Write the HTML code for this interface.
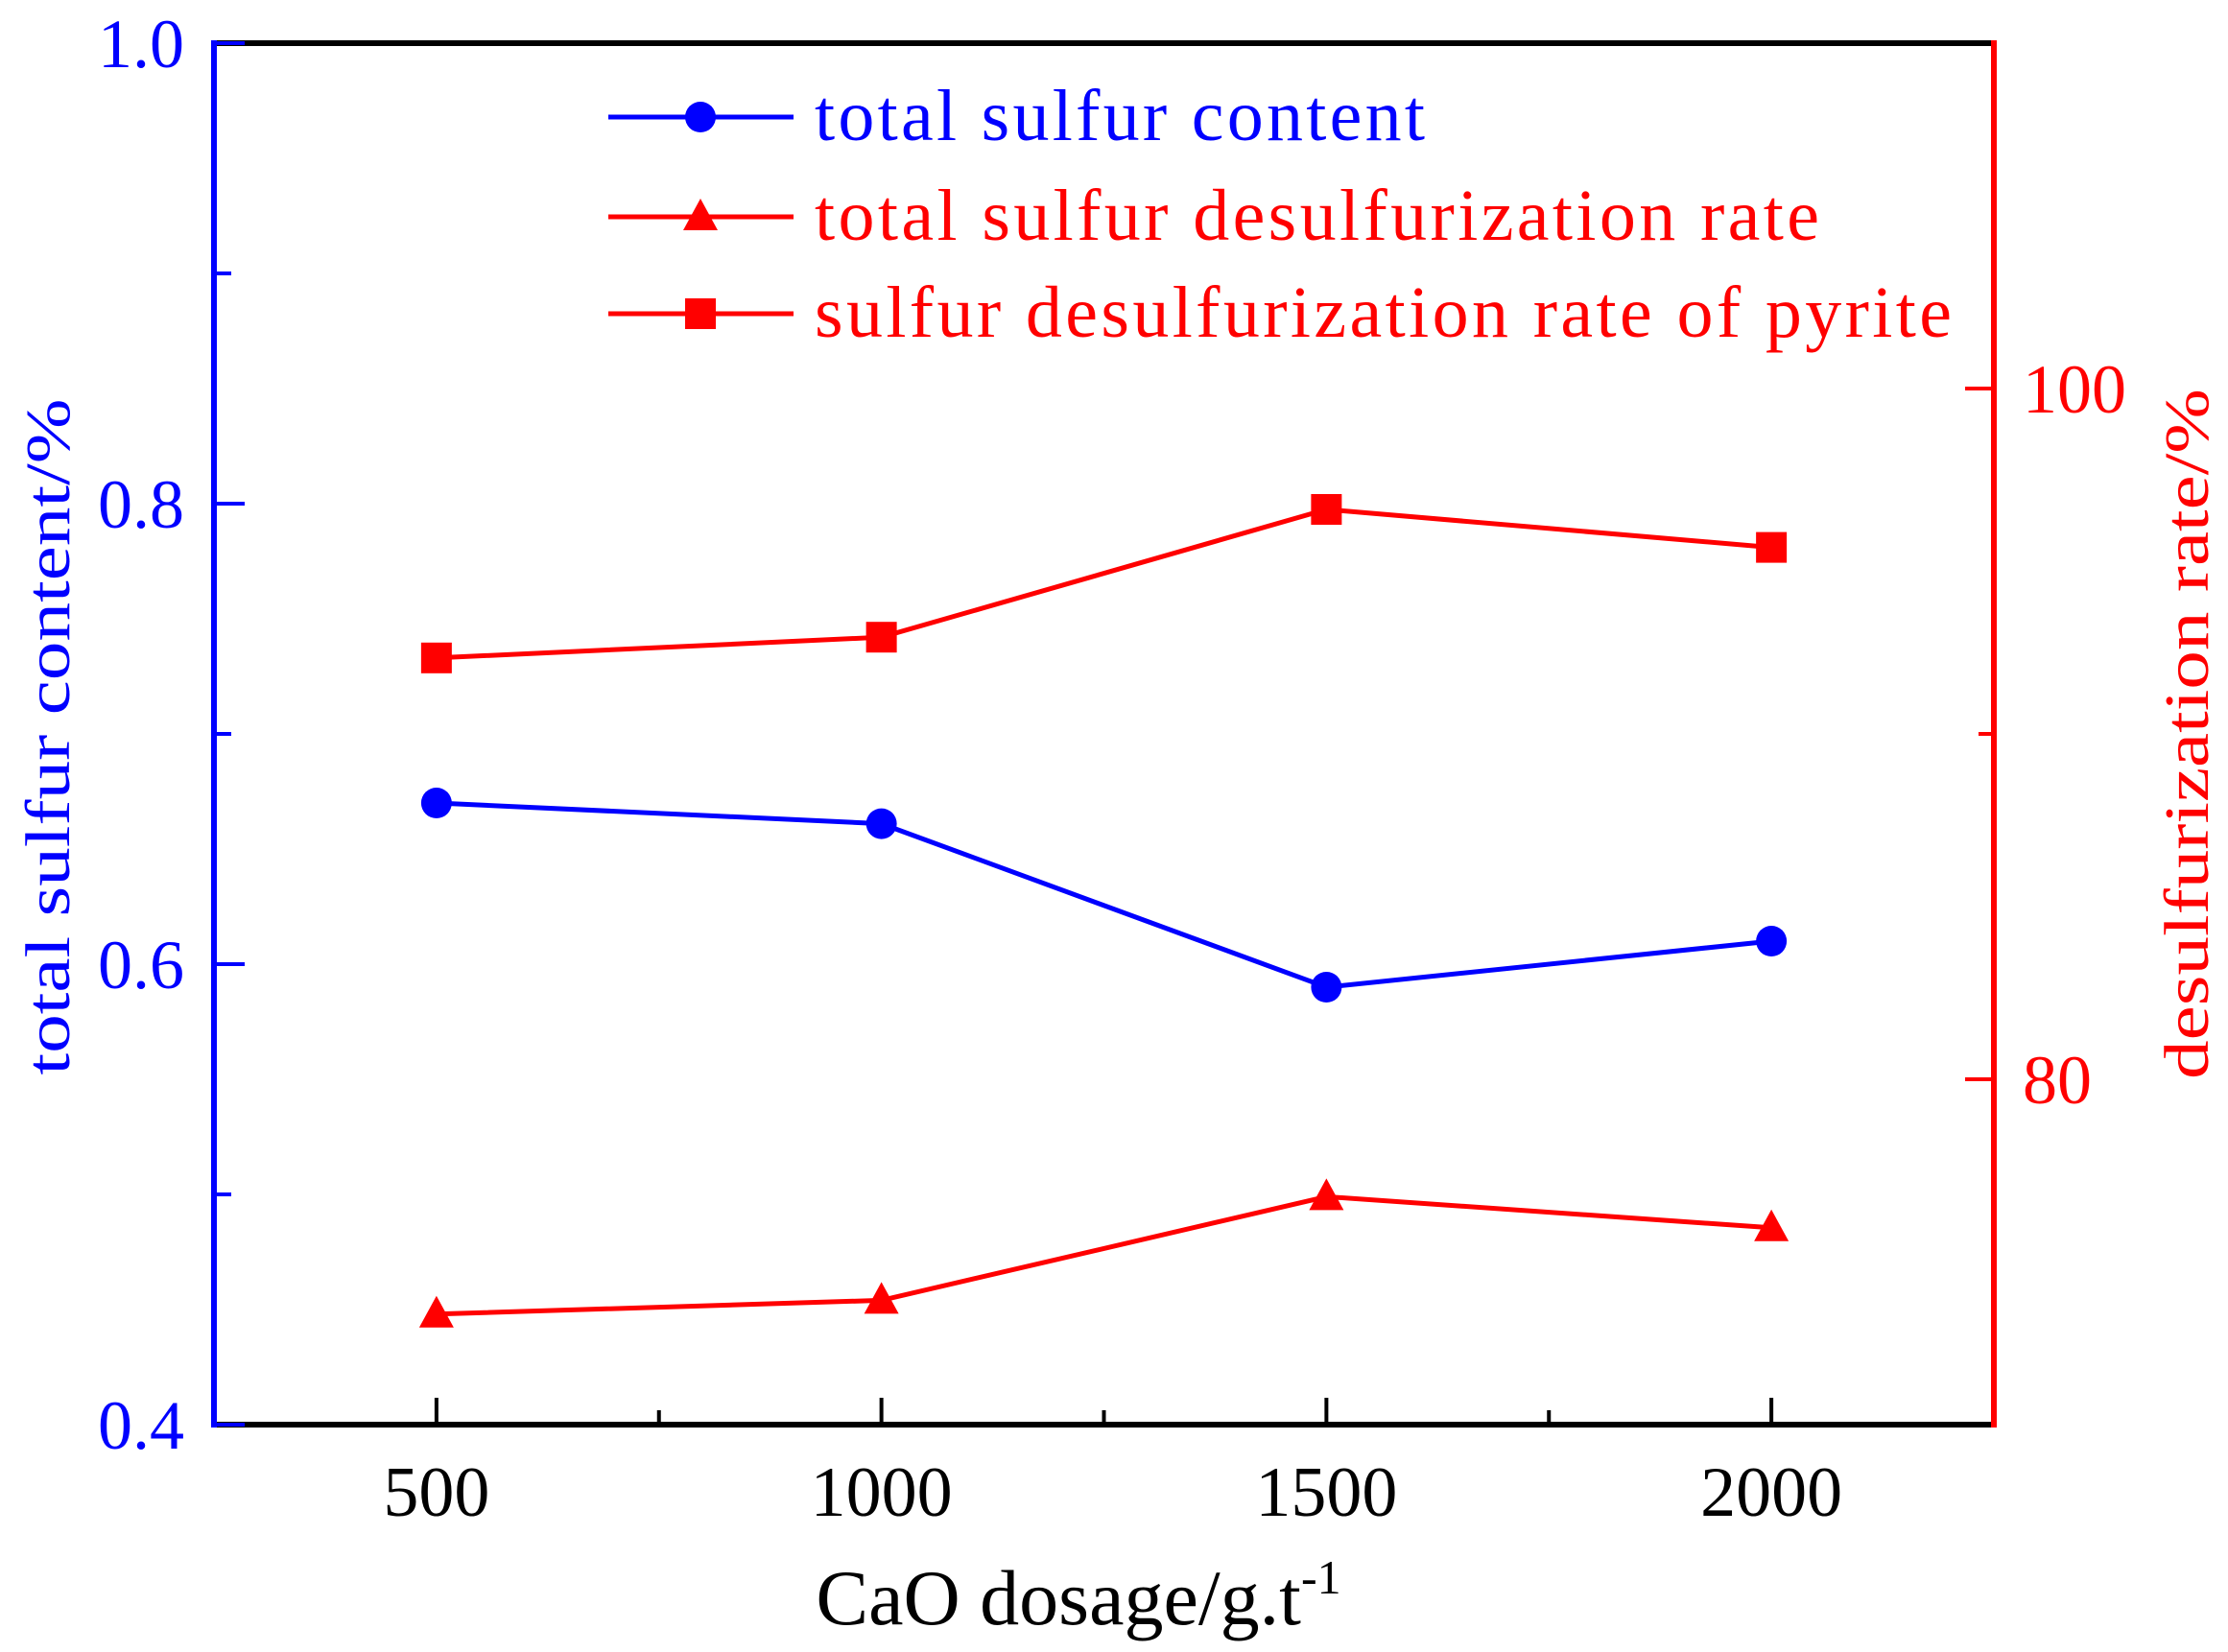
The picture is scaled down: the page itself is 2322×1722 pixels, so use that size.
<!DOCTYPE html>
<html><head><meta charset="utf-8"><style>html,body{margin:0;padding:0;background:#fff}svg{display:block}</style></head>
<body>
<svg id="chart" width="2322" height="1722" viewBox="0 0 2322 1722" xmlns="http://www.w3.org/2000/svg" font-family="'Liberation Serif', serif"></svg>
<script>
const categories = [500, 1000, 1500, 2000];
const sulfurContent = [0.67, 0.661, 0.59, 0.61];
const totalRate = [73.2, 73.6, 76.6, 75.7];
const pyriteRate = [92.2, 92.8, 96.5, 95.4];
const xTicks = [500, 1000, 1500, 2000];
const xMinor = [750, 1250, 1750];
const leftTicks = ["1.0", "0.8", "0.6", "0.4"];
const leftMinor = [0.9, 0.7, 0.5];
const rightTicks = ["100", "80"];
const rightMinor = [90];

const L=223,R=2078,T=45,B=1485;
const xs=v=>L+(v-250)/2000*(R-L);
const yl=v=>B-(v-0.4)/0.6*(B-T);
const yr=v=>B-(v-70)/40*(B-T);
const svg=document.getElementById('chart');
const NS='http://www.w3.org/2000/svg';
function mk(tag,attrs,parent){const e=document.createElementNS(NS,tag);for(const k in attrs)e.setAttribute(k,attrs[k]);(parent||svg).appendChild(e);return e;}

let a;
a=mk('line',{x1:L,y1:T,x2:R,y2:T,stroke:'#000','stroke-width':6});


a=mk('line',{x1:L,y1:B,x2:R,y2:B,stroke:'#000','stroke-width':6});


a=mk('line',{x1:L,y1:T-3,x2:L,y2:B+3,stroke:'#00f','stroke-width':6});


a=mk('line',{x1:R,y1:T-3,x2:R,y2:B+3,stroke:'#f00','stroke-width':6});



xTicks.forEach(v=>{
  const t=mk('line',{x1:xs(v),y1:B,x2:xs(v),y2:B-28,stroke:'#000','stroke-width':4});
  
  
  const l=mk('text',{x:xs(v),y:1580,'font-size':74,'text-anchor':'middle',fill:'#000'});
  l.textContent=v;
  
  
});
xMinor.forEach(v=>{
  const t=mk('line',{x1:xs(v),y1:B,x2:xs(v),y2:B-15,stroke:'#000','stroke-width':4});
  
  
});
leftTicks.forEach(s=>{
  const v=parseFloat(s);
  const t=mk('line',{x1:L,y1:yl(v),x2:L+32,y2:yl(v),stroke:'#00f','stroke-width':4});
  
  
  const l=mk('text',{x:192,y:yl(v)+25,'font-size':72,'text-anchor':'end',fill:'#00f'});
  l.textContent=s;
  
  
});
leftMinor.forEach(v=>{
  const t=mk('line',{x1:L,y1:yl(v),x2:L+18,y2:yl(v),stroke:'#00f','stroke-width':4});
  
  
});
rightTicks.forEach(s=>{
  const v=parseFloat(s);
  const t=mk('line',{x1:R,y1:yr(v),x2:R-30,y2:yr(v),stroke:'#f00','stroke-width':4});
  
  
  const l=mk('text',{x:2108,y:yr(v)+25,'font-size':72,fill:'#f00'});
  l.textContent=s;
  
  
});
rightMinor.forEach(v=>{
  const t=mk('line',{x1:R,y1:yr(v),x2:R-16,y2:yr(v),stroke:'#f00','stroke-width':4});
  
  
});

let tt=mk('text',{x:1124,y:1693,'font-size':82,'text-anchor':'middle',fill:'#000'});
tt.innerHTML='CaO dosage/g.t<tspan dy="-32" font-size="50">-1</tspan>';


tt=mk('text',{x:0,y:0,'font-size':66,'text-anchor':'middle',fill:'#00f',transform:'translate(72,768) rotate(-90)',textLength:705,lengthAdjust:'spacingAndGlyphs'});
tt.textContent='total sulfur content/%';


tt=mk('text',{x:0,y:0,'font-size':66,'text-anchor':'middle',fill:'#f00',transform:'translate(2301,765) rotate(-90)',textLength:720,lengthAdjust:'spacingAndGlyphs'});
tt.textContent='desulfurization rate/%';



function marker(kind,x,y,color,name){
  let m;
  if(kind==='circle') m=mk('circle',{cx:x,cy:y,r:16,fill:color});
  else if(kind==='square') m=mk('rect',{x:x-16,y:y-16,width:32,height:32,fill:color});
  else m=mk('polygon',{points:`${x},${y-19} ${x-18},${y+14} ${x+18},${y+14}`,fill:color});
  
  
}
function series(vals,yf,color,kind,name){
  const p=mk('polyline',{points:vals.map((v,i)=>xs(categories[i])+','+yf(v)).join(' '),fill:'none',stroke:color,'stroke-width':5});
  
  
  vals.forEach((v,i)=>marker(kind,xs(categories[i]),yf(v),color,name+'-point'));
}
series(pyriteRate,yr,'#f00','square','pyrite-rate');
series(sulfurContent,yl,'#00f','circle','sulfur-content');
series(totalRate,yr,'#f00','triangle','total-rate');

const leg=[['total sulfur content','#00f','circle',122,636],['total sulfur desulfurization rate','#f00','triangle',226,1047],['sulfur desulfurization rate of pyrite','#f00','square',327,1185]];
leg.forEach(([txt,c,k,y,w])=>{
  const g=mk('g',{});
  
  
  mk('line',{x1:634,y1:y,x2:827,y2:y,stroke:c,'stroke-width':5},g);
  if(k==='circle') mk('circle',{cx:730,cy:y,r:16,fill:c},g);
  else if(k==='square') mk('rect',{x:714,y:y-16,width:32,height:32,fill:c},g);
  else mk('polygon',{points:`730,${y-19} 712,${y+14} 748,${y+14}`,fill:c},g);
  const t=mk('text',{x:849,y:y+24,'font-size':76,fill:c,textLength:w,lengthAdjust:'spacing'},g);
  t.textContent=txt;
});
</script>
</body></html>
